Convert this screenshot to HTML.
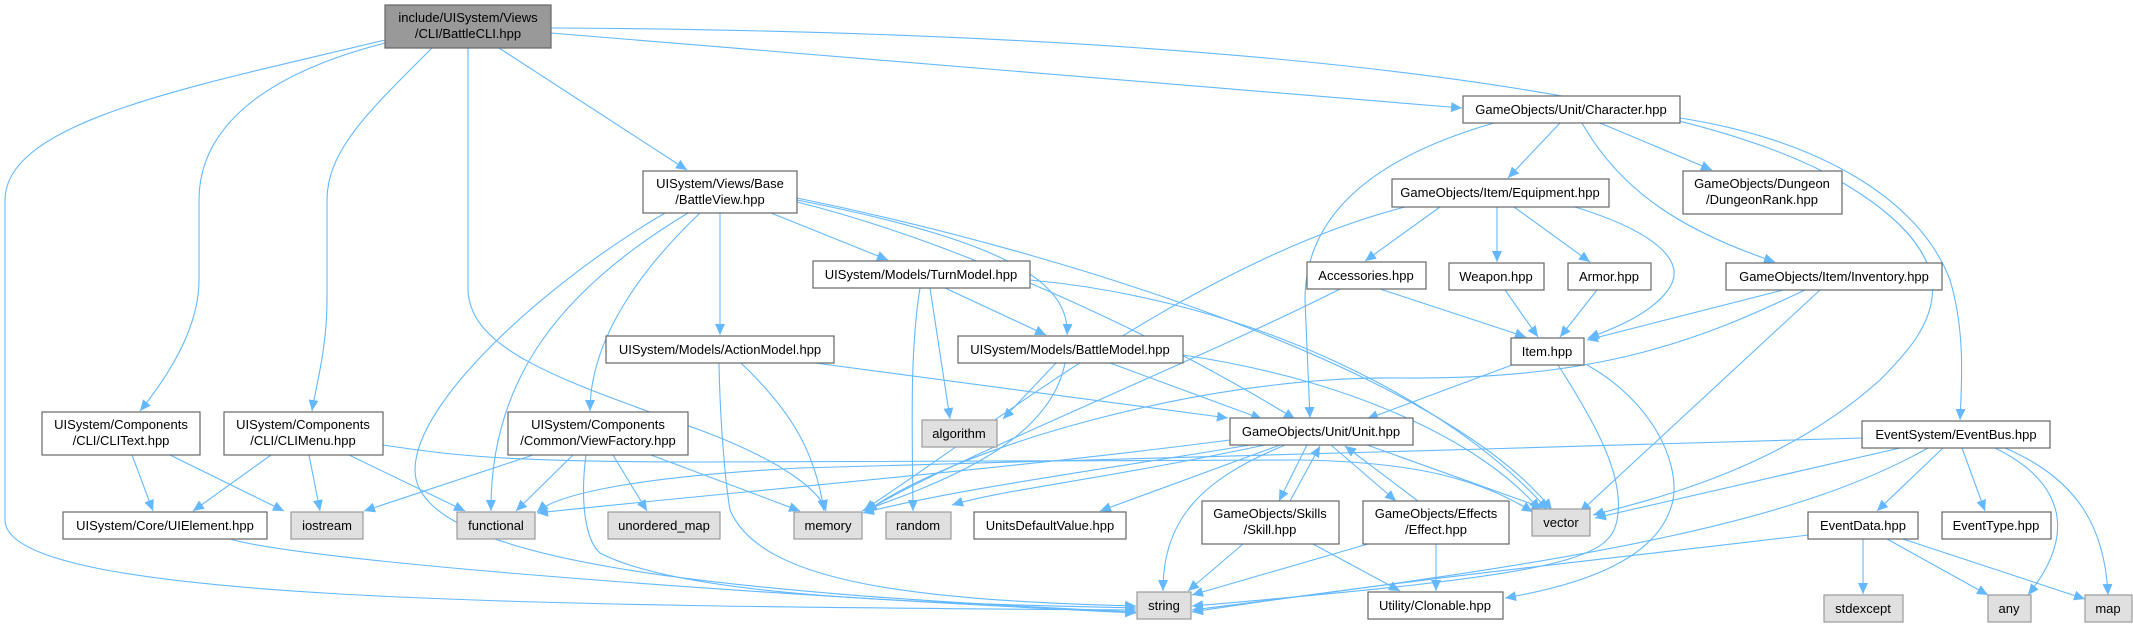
<!DOCTYPE html>
<html><head><meta charset="utf-8"><style>
html,body{margin:0;padding:0;background:#fff}
svg{display:block}
text{font-family:"Liberation Sans",Arial,sans-serif;font-size:13px;fill:#000}
.n{fill:#fff;stroke:#666;stroke-width:1.2}
.g{fill:#e0e0e0;stroke:#999;stroke-width:1.2}
.r{fill:#999;stroke:#666;stroke-width:1.2}
path.e{fill:none;stroke:#63b8ff;stroke-width:1.1}
</style></head><body>
<svg width="2133" height="624" viewBox="0 0 2133 624" xmlns="http://www.w3.org/2000/svg">
<defs><marker id="a" markerUnits="userSpaceOnUse" markerWidth="12" markerHeight="10" refX="11" refY="5" orient="auto"><path d="M0,0 L11,5 L0,10 z" fill="#63b8ff"/></marker></defs>
<g>
<!-- BattleCLI -->
<path class="e" marker-end="url(#a)" d="M385,40 C200,85 5,120 5,200 L5,520 C5,600 500,606 1136,610"/>
<path class="e" marker-end="url(#a)" d="M385,43 C260,75 199,130 199,200 L199,280 C199,330 165,380 140,411"/>
<path class="e" marker-end="url(#a)" d="M432,48 C370,110 327,150 327,200 L327,300 C327,350 315,390 312,411"/>
<path class="e" marker-end="url(#a)" d="M468,48 L468,290 C470,350 560,380 700,430 C780,460 820,490 826,511"/>
<path class="e" marker-end="url(#a)" d="M499,48 L687,170"/>
<path class="e" marker-end="url(#a)" d="M551,33 L1462,108"/>
<path class="e" marker-end="url(#a)" d="M551,28 C1000,30 1600,60 1820,170 C1990,260 1930,330 1880,380 C1780,470 1650,500 1593,515"/>
<path class="e" marker-end="url(#a)" d="M1680,118 C1820,140 1920,200 1950,280 C1965,330 1962,380 1960,420"/>
<!-- BattleView -->
<path class="e" marker-end="url(#a)" d="M771,213 L888,260"/>
<path class="e" marker-end="url(#a)" d="M720,213 L720,335"/>
<path class="e" marker-end="url(#a)" d="M700,213 C640,270 590,340 590,411"/>
<path class="e" marker-end="url(#a)" d="M688,213 C560,290 490,380 491,511"/>
<path class="e" marker-end="url(#a)" d="M665,213 C550,280 415,400 415,470 C415,560 700,592 1136,612"/>
<path class="e" marker-end="url(#a)" d="M797,200 C1000,240 1070,280 1067,335"/>
<path class="e" marker-end="url(#a)" d="M797,202 C950,240 1150,330 1295,419"/>
<path class="e" marker-end="url(#a)" d="M797,198 C1100,260 1450,380 1552,510"/>
<!-- TurnModel -->
<path class="e" marker-end="url(#a)" d="M945,288 L1046,335"/>
<path class="e" marker-end="url(#a)" d="M930,288 L950,419"/>
<path class="e" marker-end="url(#a)" d="M920,288 C910,350 912,420 913,511"/>
<path class="e" marker-end="url(#a)" d="M1030,280 C1250,300 1450,400 1548,510"/>
<!-- ActionModel -->
<path class="e" marker-end="url(#a)" d="M741,363 C790,410 815,450 824,511"/>
<path class="e" marker-end="url(#a)" d="M815,363 L1228,418"/>
<path class="e" marker-end="url(#a)" d="M719,363 C720,420 725,480 730,510 C760,580 900,600 1136,606"/>
<!-- BattleModel -->
<path class="e" marker-end="url(#a)" d="M1056,363 L1003,419"/>
<path class="e" marker-end="url(#a)" d="M1065,363 C1050,440 950,480 862,511"/>
<path class="e" marker-end="url(#a)" d="M1110,363 L1262,419"/>
<path class="e" marker-end="url(#a)" d="M1183,355 C1350,380 1480,440 1540,510"/>
<!-- ViewFactory -->
<path class="e" marker-end="url(#a)" d="M533,455 L364,511"/>
<path class="e" marker-end="url(#a)" d="M573,455 L516,511"/>
<path class="e" marker-end="url(#a)" d="M613,455 L647,511"/>
<path class="e" marker-end="url(#a)" d="M651,455 L800,511"/>
<path class="e" marker-end="url(#a)" d="M586,455 C580,500 585,540 600,553 C680,595 900,603 1136,608"/>
<!-- CLIText / CLIMenu -->
<path class="e" marker-end="url(#a)" d="M132,455 L153,511"/>
<path class="e" marker-end="url(#a)" d="M170,455 L284,511"/>
<path class="e" marker-end="url(#a)" d="M271,455 L193,511"/>
<path class="e" marker-end="url(#a)" d="M309,455 L320,511"/>
<path class="e" marker-end="url(#a)" d="M349,455 L465,511"/>
<path class="e" marker-end="url(#a)" d="M383,445 C450,455 500,462 700,462 L1300,460 C1420,462 1480,480 1533,512"/>
<path class="e" marker-end="url(#a)" d="M230,539 C300,560 700,592 1136,613"/>
<!-- Unit -->
<path class="e" marker-end="url(#a)" d="M1250,445 C1100,470 950,490 863,513"/>
<path class="e" marker-end="url(#a)" d="M1265,445 C1100,480 1000,490 952,505"/>
<path class="e" marker-end="url(#a)" d="M1280,445 L1100,511"/>
<path class="e" marker-end="url(#a)" d="M1285,445 C1200,480 1163,520 1163,591"/>
<path class="e" marker-end="url(#a)" d="M1307,445 L1279,501"/>
<path class="e" marker-end="url(#a)" d="M1290,501 L1320,446"/>
<path class="e" marker-end="url(#a)" d="M1331,445 L1396,501"/>
<path class="e" marker-end="url(#a)" d="M1418,501 L1345,446"/>
<path class="e" marker-end="url(#a)" d="M1367,445 L1543,508"/>
<path class="e" marker-end="url(#a)" d="M1230,440 C1000,470 700,495 537,513"/>
<!-- Skill / Effect -->
<path class="e" marker-end="url(#a)" d="M1243,544 L1188,591"/>
<path class="e" marker-end="url(#a)" d="M1313,544 L1400,591"/>
<path class="e" marker-end="url(#a)" d="M1368,544 L1192,595"/>
<path class="e" marker-end="url(#a)" d="M1436,544 L1436,591"/>
<!-- Character -->
<path class="e" marker-end="url(#a)" d="M1494,123 C1400,150 1305,200 1305,300 L1310,418"/>
<path class="e" marker-end="url(#a)" d="M1560,123 L1508,178"/>
<path class="e" marker-end="url(#a)" d="M1600,123 L1712,170"/>
<path class="e" marker-end="url(#a)" d="M1582,123 C1620,190 1680,230 1775,262"/>
<!-- Equipment -->
<path class="e" marker-end="url(#a)" d="M1440,207 L1365,261"/>
<path class="e" marker-end="url(#a)" d="M1497,207 L1497,262"/>
<path class="e" marker-end="url(#a)" d="M1514,207 L1590,262"/>
<path class="e" marker-end="url(#a)" d="M1575,207 C1650,230 1690,260 1668,290 C1650,315 1610,330 1588,338"/>
<path class="e" marker-end="url(#a)" d="M1405,207 C1200,260 1000,420 864,510"/>
<!-- Accessories / Weapon / Armor -->
<path class="e" marker-end="url(#a)" d="M1380,289 L1526,337"/>
<path class="e" marker-end="url(#a)" d="M1340,289 C1200,360 950,460 866,511"/>
<path class="e" marker-end="url(#a)" d="M1505,290 L1538,337"/>
<path class="e" marker-end="url(#a)" d="M1597,290 L1560,337"/>
<!-- Inventory -->
<path class="e" marker-end="url(#a)" d="M1783,290 L1587,340"/>
<path class="e" marker-end="url(#a)" d="M1805,290 C1700,340 1600,380 1400,378 C1200,375 950,450 866,512"/>
<path class="e" marker-end="url(#a)" d="M1820,290 L1580,512"/>
<!-- Item -->
<path class="e" marker-end="url(#a)" d="M1512,365 L1367,419"/>
<path class="e" marker-end="url(#a)" d="M1558,365 C1600,430 1625,480 1617,520 C1610,560 1560,575 1192,606"/>
<path class="e" marker-end="url(#a)" d="M1587,365 C1650,400 1680,460 1673,500 C1660,560 1580,585 1505,598"/>
<!-- EventBus -->
<path class="e" marker-end="url(#a)" d="M1900,448 L1595,518"/>
<path class="e" marker-end="url(#a)" d="M1928,448 C1800,520 1600,560 1192,610"/>
<path class="e" marker-end="url(#a)" d="M1943,448 L1877,511"/>
<path class="e" marker-end="url(#a)" d="M1962,448 L1985,511"/>
<path class="e" marker-end="url(#a)" d="M1995,448 C2060,480 2080,530 2028,595"/>
<path class="e" marker-end="url(#a)" d="M2005,448 C2080,480 2105,530 2108,595"/>
<path class="e" marker-end="url(#a)" d="M1862,438 C1500,450 1000,460 800,468 C650,476 560,492 537,512"/>
<!-- EventData -->
<path class="e" marker-end="url(#a)" d="M1808,535 C1600,560 1400,580 1192,612"/>
<path class="e" marker-end="url(#a)" d="M1863,539 L1863,594"/>
<path class="e" marker-end="url(#a)" d="M1887,539 L1988,595"/>
<path class="e" marker-end="url(#a)" d="M1903,539 L2085,599"/>
</g>
<g>
<rect class="r" x="385" y="5" width="166" height="43"/><text x="468" y="22" text-anchor="middle">include/UISystem/Views</text><text x="468" y="38" text-anchor="middle">/CLI/BattleCLI.hpp</text>
<rect class="n" x="643" y="171" width="154" height="42"/><text x="720" y="188" text-anchor="middle">UISystem/Views/Base</text><text x="720" y="204" text-anchor="middle">/BattleView.hpp</text>
<rect class="n" x="813" y="261" width="217" height="27"/><text x="921" y="279" text-anchor="middle">UISystem/Models/TurnModel.hpp</text>
<rect class="n" x="1307" y="262" width="119" height="27"/><text x="1366" y="280" text-anchor="middle">Accessories.hpp</text>
<rect class="n" x="42" y="412" width="158" height="43"/><text x="121" y="429" text-anchor="middle">UISystem/Components</text><text x="121" y="445" text-anchor="middle">/CLI/CLIText.hpp</text>
<rect class="n" x="224" y="412" width="159" height="43"/><text x="303" y="429" text-anchor="middle">UISystem/Components</text><text x="303" y="445" text-anchor="middle">/CLI/CLIMenu.hpp</text>
<rect class="n" x="508" y="412" width="180" height="43"/><text x="598" y="429" text-anchor="middle">UISystem/Components</text><text x="598" y="445" text-anchor="middle">/Common/ViewFactory.hpp</text>
<rect class="n" x="63" y="512" width="204" height="27"/><text x="165" y="530" text-anchor="middle">UISystem/Core/UIElement.hpp</text>
<rect class="g" x="291" y="512" width="72" height="27"/><text x="327" y="530" text-anchor="middle">iostream</text>
<rect class="g" x="457" y="512" width="78" height="27"/><text x="496" y="530" text-anchor="middle">functional</text>
<rect class="g" x="608" y="512" width="112" height="27"/><text x="664" y="530" text-anchor="middle">unordered_map</text>
<rect class="n" x="606" y="336" width="228" height="27"/><text x="720" y="354" text-anchor="middle">UISystem/Models/ActionModel.hpp</text>
<rect class="n" x="958" y="336" width="225" height="27"/><text x="1070" y="354" text-anchor="middle">UISystem/Models/BattleModel.hpp</text>
<rect class="g" x="922" y="420" width="75" height="27"/><text x="959" y="438" text-anchor="middle">algorithm</text>
<rect class="n" x="1230" y="418" width="183" height="27"/><text x="1321" y="436" text-anchor="middle">GameObjects/Unit/Unit.hpp</text>
<rect class="g" x="794" y="512" width="68" height="27"/><text x="828" y="530" text-anchor="middle">memory</text>
<rect class="g" x="886" y="512" width="65" height="27"/><text x="918" y="530" text-anchor="middle">random</text>
<rect class="n" x="974" y="512" width="152" height="27"/><text x="1050" y="530" text-anchor="middle">UnitsDefaultValue.hpp</text>
<rect class="n" x="1202" y="501" width="137" height="43"/><text x="1270" y="518" text-anchor="middle">GameObjects/Skills</text><text x="1270" y="534" text-anchor="middle">/Skill.hpp</text>
<rect class="n" x="1363" y="501" width="146" height="43"/><text x="1436" y="518" text-anchor="middle">GameObjects/Effects</text><text x="1436" y="534" text-anchor="middle">/Effect.hpp</text>
<rect class="g" x="1137" y="592" width="54" height="27"/><text x="1164" y="610" text-anchor="middle">string</text>
<rect class="n" x="1368" y="592" width="135" height="27"/><text x="1435" y="610" text-anchor="middle">Utility/Clonable.hpp</text>
<rect class="g" x="1532" y="509" width="58" height="27"/><text x="1561" y="527" text-anchor="middle">vector</text>
<rect class="n" x="1463" y="96" width="217" height="27"/><text x="1571" y="114" text-anchor="middle">GameObjects/Unit/Character.hpp</text>
<rect class="n" x="1392" y="179" width="217" height="28"/><text x="1500" y="197" text-anchor="middle">GameObjects/Item/Equipment.hpp</text>
<rect class="n" x="1683" y="171" width="159" height="43"/><text x="1762" y="188" text-anchor="middle">GameObjects/Dungeon</text><text x="1762" y="204" text-anchor="middle">/DungeonRank.hpp</text>
<rect class="n" x="1449" y="263" width="95" height="27"/><text x="1496" y="281" text-anchor="middle">Weapon.hpp</text>
<rect class="n" x="1568" y="263" width="83" height="27"/><text x="1609" y="281" text-anchor="middle">Armor.hpp</text>
<rect class="n" x="1726" y="263" width="216" height="27"/><text x="1834" y="281" text-anchor="middle">GameObjects/Item/Inventory.hpp</text>
<rect class="n" x="1511" y="338" width="73" height="27"/><text x="1547" y="356" text-anchor="middle">Item.hpp</text>
<rect class="n" x="1862" y="421" width="188" height="27"/><text x="1956" y="439" text-anchor="middle">EventSystem/EventBus.hpp</text>
<rect class="n" x="1808" y="512" width="110" height="27"/><text x="1863" y="530" text-anchor="middle">EventData.hpp</text>
<rect class="n" x="1942" y="512" width="109" height="27"/><text x="1996" y="530" text-anchor="middle">EventType.hpp</text>
<rect class="g" x="1824" y="595" width="79" height="27"/><text x="1863" y="613" text-anchor="middle">stdexcept</text>
<rect class="g" x="1988" y="595" width="43" height="27"/><text x="2009" y="613" text-anchor="middle">any</text>
<rect class="g" x="2085" y="595" width="47" height="27"/><text x="2108" y="613" text-anchor="middle">map</text>
</g>
</svg>
</body></html>
